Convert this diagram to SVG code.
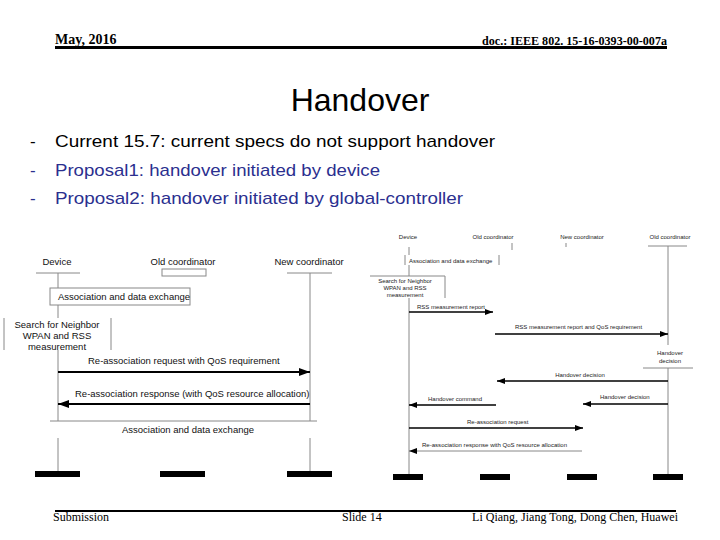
<svg xmlns="http://www.w3.org/2000/svg" width="720" height="540" viewBox="0 0 720 540">
<style>
.hdr{font-family:"Liberation Serif","Times New Roman",serif;font-weight:bold;fill:#000}
.ftr{font-family:"Liberation Serif","Times New Roman",serif;font-size:12px;fill:#000}
.title{font-family:"Liberation Sans",Arial,sans-serif;font-size:32px;fill:#000}
.bul{font-family:"Liberation Sans",Arial,sans-serif;font-size:17px}
.lt{font-family:"Liberation Sans",Arial,sans-serif;font-size:9.5px;fill:#111}
.st{font-family:"Liberation Sans",Arial,sans-serif;font-size:6px;fill:#222}
.life{stroke:#888;stroke-width:1;fill:none}
.bar{fill:#000}
.msgL{stroke:#000;stroke-width:1.8;fill:none}
.msgS{stroke:#000;stroke-width:1.4;fill:none}
.thin{stroke:#888;stroke-width:1;fill:none}
</style>
<defs>
<marker id="arrL" markerUnits="userSpaceOnUse" markerWidth="11" markerHeight="8" refX="11" refY="4" orient="auto">
<path d="M0,0 L11,4 L0,8 z" fill="#000"/>
</marker>
<marker id="arrS" markerUnits="userSpaceOnUse" markerWidth="8" markerHeight="6" refX="8" refY="3" orient="auto">
<path d="M0,0 L8,3 L0,6 z" fill="#000"/>
</marker>
</defs>
<rect width="720" height="540" fill="#fff"/>

<!-- header -->
<g id="header">
<text class="hdr" x="55" y="44" font-size="14">May, 2016</text>
<text class="hdr" x="667" y="45" font-size="12" text-anchor="end" textLength="185" lengthAdjust="spacingAndGlyphs">doc.: IEEE 802. 15-16-0393-00-007a</text>
<line x1="55" y1="47.5" x2="667" y2="47.5" stroke="#000" stroke-width="3"/>
</g>

<g id="title"><text class="title" x="360" y="111" text-anchor="middle">Handover</text></g>

<g id="bullets">
<text class="bul" x="30" y="147" fill="#000">-</text>
<text class="bul" x="55" y="147" fill="#000" textLength="440" lengthAdjust="spacingAndGlyphs">Current 15.7: current specs do not support handover</text>
<text class="bul" x="30" y="176" fill="#2b2f8f">-</text>
<text class="bul" x="55" y="176" fill="#2b2f8f" textLength="325" lengthAdjust="spacingAndGlyphs">Proposal1: handover initiated by device</text>
<text class="bul" x="30" y="204" fill="#2b2f8f">-</text>
<text class="bul" x="55" y="204" fill="#2b2f8f" textLength="408" lengthAdjust="spacingAndGlyphs">Proposal2: handover initiated by global-controller</text>
</g>

<!-- left diagram nodes -->
<g id="L-device">
<text class="lt" x="57" y="265" text-anchor="middle">Device</text>
<line class="life" x1="36" y1="273" x2="80" y2="273"/>
<path class="life" d="M58,273 V288 M58,305 V318 M58,350 V421 M58,438 V471"/>
<rect class="bar" x="35" y="471" width="45" height="6"/>
</g>
<g id="L-old">
<text class="lt" x="183" y="265" text-anchor="middle">Old coordinator</text>
<rect class="life" x="162" y="269" width="44" height="7"/>
<rect class="bar" x="160" y="471" width="45" height="6"/>
</g>
<g id="L-new">
<text class="lt" x="309" y="265" text-anchor="middle">New coordinator</text>
<line class="life" x1="287" y1="273" x2="332" y2="273"/>
<path class="life" d="M310,273 V421 M310,438 V471"/>
<rect class="bar" x="287" y="471" width="45" height="6"/>
</g>
<g id="L-assoc1">
<rect class="life" x="50" y="288" width="140" height="17"/>
<text class="lt" x="58" y="300">Association and data exchange</text>
</g>
<g id="L-search">
<path class="life" d="M4,318 V350 M111,318 V350"/>
<text class="lt" x="57" y="328" text-anchor="middle">Search for Neighbor</text>
<text class="lt" x="57" y="339" text-anchor="middle">WPAN and RSS</text>
<text class="lt" x="57" y="350" text-anchor="middle">measurement</text>
</g>
<g id="L-assoc2">
<line class="life" x1="50" y1="421" x2="317" y2="421"/>
<text class="lt" x="122" y="433">Association and data exchange</text>
</g>

<!-- right diagram nodes -->
<g id="R-device">
<text class="st" x="408" y="239" text-anchor="middle">Device</text>
<path class="life" d="M409,247 V255 M409,265 V276 M409,298 V474"/>
<rect class="bar" x="393" y="474" width="30" height="6"/>
</g>
<g id="R-old">
<text class="st" x="493" y="239" text-anchor="middle">Old coordinator</text>
<line class="life" x1="512" y1="243" x2="512" y2="250"/>
<rect class="bar" x="480" y="474" width="30" height="6"/>
</g>
<g id="R-new">
<text class="st" x="582" y="239" text-anchor="middle">New coordinator</text>
<line class="life" x1="566" y1="243" x2="566" y2="247"/>
<rect class="bar" x="567" y="474" width="30" height="6"/>
</g>
<g id="R-old2">
<text class="st" x="670" y="239" text-anchor="middle">Old coordinator</text>
<line class="life" x1="648" y1="246" x2="687" y2="246"/>
<path class="life" d="M668,246 V345 M668,368 V474"/>
<rect class="bar" x="653" y="474" width="30" height="6"/>
</g>
<g id="R-assoc">
<path class="life" d="M405,255 V265 M499,255 V265"/>
<text class="st" x="409" y="263">Association and data exchange</text>
</g>
<g id="R-search">
<path class="life" d="M370,276 H445 V298"/>
<text class="st" x="405" y="283" text-anchor="middle">Search for Neighbor</text>
<text class="st" x="405" y="290" text-anchor="middle">WPAN and RSS</text>
<text class="st" x="405" y="297" text-anchor="middle">measurement</text>
</g>
<g id="R-decision">
<text class="st" x="670" y="355" text-anchor="middle">Handover</text>
<text class="st" x="670" y="363" text-anchor="middle">decision</text>
<line class="life" x1="643" y1="368" x2="693" y2="368"/>
</g>

<!-- connectors -->
<g id="connectors">
<line class="msgL" x1="58" y1="372" x2="310" y2="372" marker-end="url(#arrL)"/>
<text class="lt" x="88" y="364">Re-association request with QoS requirement</text>
<line class="msgL" x1="310" y1="404" x2="58" y2="404" marker-end="url(#arrL)"/>
<text class="lt" x="75" y="397">Re-association response (with QoS resource allocation)</text>

<line class="msgS" x1="409" y1="312" x2="493" y2="312" marker-end="url(#arrS)"/>
<text class="st" x="417" y="309">RSS measurement report</text>
<line class="msgS" x1="495" y1="334" x2="668" y2="334" marker-end="url(#arrS)"/>
<text class="st" x="515" y="329">RSS measurement report and QoS requirement</text>
<line class="msgS" x1="668" y1="381" x2="497" y2="381" marker-end="url(#arrS)"/>
<text class="st" x="580" y="377" text-anchor="middle">Handover decision</text>
<line class="msgS" x1="668" y1="404" x2="583" y2="404" marker-end="url(#arrS)"/>
<text class="st" x="600" y="399">Handover decision</text>
<line class="msgS" x1="496" y1="405" x2="409" y2="405" marker-end="url(#arrS)"/>
<text class="st" x="428" y="401">Handover command</text>
<line class="msgS" x1="409" y1="428" x2="583" y2="428" marker-end="url(#arrS)"/>
<text class="st" x="467" y="424">Re-association request</text>
<line class="thin" x1="582" y1="451" x2="409" y2="451" marker-end="url(#arrS)"/>
<text class="st" x="422" y="447" textLength="145" lengthAdjust="spacingAndGlyphs">Re-association response with QoS resource allocation</text>
</g>

<!-- footer -->
<g id="footer">
<line x1="55" y1="511" x2="676" y2="511" stroke="#000" stroke-width="2"/>
<text class="ftr" x="53" y="521">Submission</text>
<text class="ftr" x="342" y="521">Slide 14</text>
<text class="ftr" x="678" y="521" text-anchor="end">Li Qiang, Jiang Tong, Dong Chen, Huawei</text>
</g>
</svg>
